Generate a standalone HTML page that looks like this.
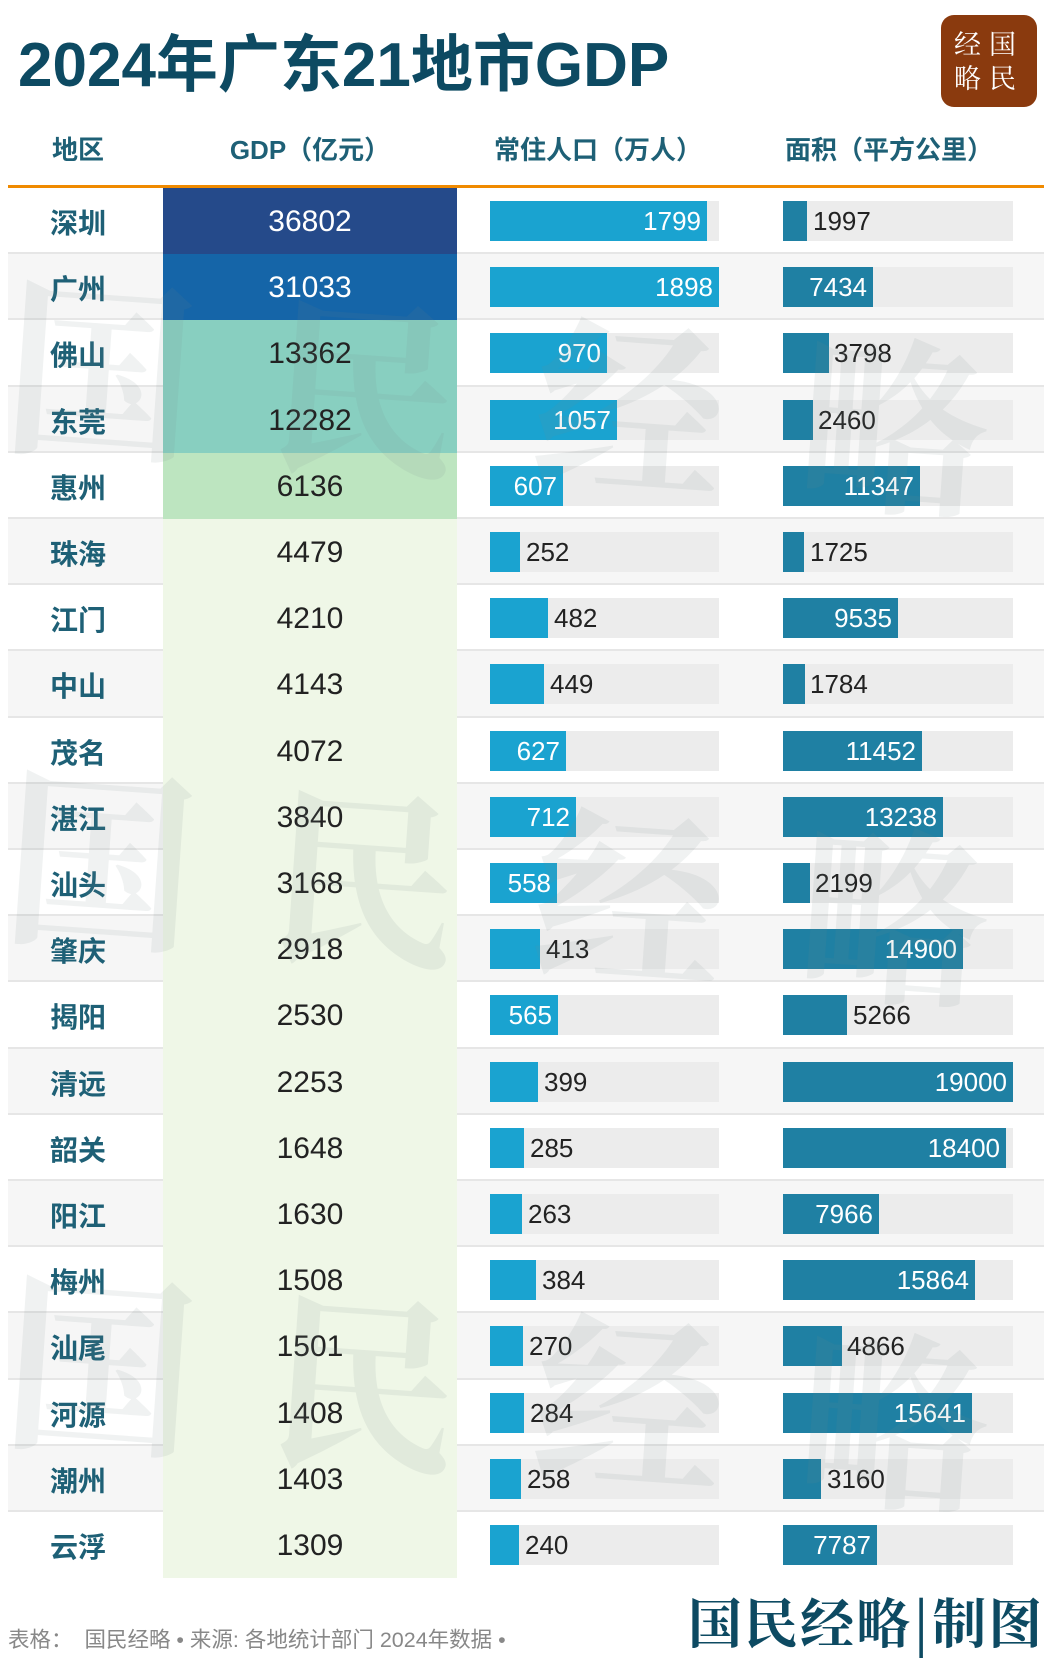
<!DOCTYPE html><html><head><meta charset="utf-8"><style>
body{margin:0;width:1048px;height:1652px;background:#fff;position:relative;overflow:hidden;font-family:"Liberation Sans","Noto Sans CJK SC",sans-serif}
.a{position:absolute}
.t{left:18px;top:14px;font-size:62px;font-weight:bold;color:#0d4a62;letter-spacing:0px;white-space:nowrap}
.logo{left:941px;top:15px;width:96px;height:92px;background:#8a3a0e;border-radius:13px;color:#fff;font-family:"Noto Serif CJK SC",serif;font-size:27px;line-height:34px;text-align:center;padding-top:11px;box-sizing:border-box;letter-spacing:8px}
.h{top:130px;font-size:26px;font-weight:bold;color:#1e6076;text-align:center;white-space:nowrap}
.ol{left:8px;top:185px;width:1036px;height:3px;background:#f08a00}
.r{position:absolute;left:8px;width:1036px;height:66.2px;border-bottom:2px solid #e6e6e6;box-sizing:border-box}
.r.z{background:#f6f6f6}
.n{position:absolute;left:0;width:140px;text-align:center;top:14px;font-size:28px;font-weight:bold;color:#1e6076}
.g{position:absolute;left:155px;width:294px;top:0;height:66.2px;text-align:center;line-height:68px;font-size:30px;color:#222;background:#eff7e7}
.tr{position:absolute;top:13px;height:40px;width:229px;background:#ececec}
.p{left:482px}.q{left:775px;width:230px}
.b{position:absolute;left:0;top:0;height:40px;background:#1aa3d0}
.q .b{background:#1f80a3}
.l{position:absolute;top:0;line-height:41px;font-size:26px;color:#222;white-space:nowrap}
.i{color:#fff;text-align:right;padding-right:6px;box-sizing:border-box;left:0}
.wm{font-family:"Noto Serif CJK SC",serif;font-weight:bold;color:rgba(120,140,140,0.11);font-size:190px;letter-spacing:75px;white-space:nowrap}
.f{left:8px;top:1623px;font-size:21.5px;color:#888;white-space:nowrap}
.s{left:688px;top:1582px;font-size:54px;font-family:"Noto Serif CJK SC",serif;font-weight:bold;color:#0d4a62;white-space:nowrap;letter-spacing:2px}
</style></head><body>
<div class="a t">2024年广东21地市GDP</div>
<div class="a logo">经国<br>略民</div>
<div class="a h" style="left:18px;width:120px">地区</div>
<div class="a h" style="left:200px;width:220px">GDP（亿元）</div>
<div class="a h" style="left:478px;width:240px">常住人口（万人）</div>
<div class="a h" style="left:769px;width:240px">面积（平方公里）</div>
<div class="a ol"></div>

<div class="r" style="top:188px"><div class="n">深圳</div><div class="g" style="background:#254a8a;color:#fff">36802</div><div class="tr p"><div class="b" style="width:217px"></div><span class="l i" style="width:217px">1799</span></div><div class="tr q"><div class="b" style="width:24px"></div><span class="l" style="left:30px">1997</span></div></div>
<div class="r z" style="top:254.2px"><div class="n">广州</div><div class="g" style="background:#1565a8;color:#fff">31033</div><div class="tr p"><div class="b" style="width:229px"></div><span class="l i" style="width:229px">1898</span></div><div class="tr q"><div class="b" style="width:90px"></div><span class="l i" style="width:90px">7434</span></div></div>
<div class="r" style="top:320.4px"><div class="n">佛山</div><div class="g" style="background:#88cfc0">13362</div><div class="tr p"><div class="b" style="width:117px"></div><span class="l i" style="width:117px">970</span></div><div class="tr q"><div class="b" style="width:46px"></div><span class="l" style="left:51px">3798</span></div></div>
<div class="r z" style="top:386.6px"><div class="n">东莞</div><div class="g" style="background:#88cfc0">12282</div><div class="tr p"><div class="b" style="width:127px"></div><span class="l i" style="width:127px">1057</span></div><div class="tr q"><div class="b" style="width:30px"></div><span class="l" style="left:35px">2460</span></div></div>
<div class="r" style="top:452.8px"><div class="n">惠州</div><div class="g" style="background:#bde5c0">6136</div><div class="tr p"><div class="b" style="width:73px"></div><span class="l i" style="width:73px">607</span></div><div class="tr q"><div class="b" style="width:137px"></div><span class="l i" style="width:137px">11347</span></div></div>
<div class="r z" style="top:519px"><div class="n">珠海</div><div class="g">4479</div><div class="tr p"><div class="b" style="width:30px"></div><span class="l" style="left:36px">252</span></div><div class="tr q"><div class="b" style="width:21px"></div><span class="l" style="left:27px">1725</span></div></div>
<div class="r" style="top:585.2px"><div class="n">江门</div><div class="g">4210</div><div class="tr p"><div class="b" style="width:58px"></div><span class="l" style="left:64px">482</span></div><div class="tr q"><div class="b" style="width:115px"></div><span class="l i" style="width:115px">9535</span></div></div>
<div class="r z" style="top:651.4px"><div class="n">中山</div><div class="g">4143</div><div class="tr p"><div class="b" style="width:54px"></div><span class="l" style="left:60px">449</span></div><div class="tr q"><div class="b" style="width:22px"></div><span class="l" style="left:27px">1784</span></div></div>
<div class="r" style="top:717.6px"><div class="n">茂名</div><div class="g">4072</div><div class="tr p"><div class="b" style="width:76px"></div><span class="l i" style="width:76px">627</span></div><div class="tr q"><div class="b" style="width:139px"></div><span class="l i" style="width:139px">11452</span></div></div>
<div class="r z" style="top:783.8px"><div class="n">湛江</div><div class="g">3840</div><div class="tr p"><div class="b" style="width:86px"></div><span class="l i" style="width:86px">712</span></div><div class="tr q"><div class="b" style="width:160px"></div><span class="l i" style="width:160px">13238</span></div></div>
<div class="r" style="top:850px"><div class="n">汕头</div><div class="g">3168</div><div class="tr p"><div class="b" style="width:67px"></div><span class="l i" style="width:67px">558</span></div><div class="tr q"><div class="b" style="width:27px"></div><span class="l" style="left:32px">2199</span></div></div>
<div class="r z" style="top:916.2px"><div class="n">肇庆</div><div class="g">2918</div><div class="tr p"><div class="b" style="width:50px"></div><span class="l" style="left:56px">413</span></div><div class="tr q"><div class="b" style="width:180px"></div><span class="l i" style="width:180px">14900</span></div></div>
<div class="r" style="top:982.4px"><div class="n">揭阳</div><div class="g">2530</div><div class="tr p"><div class="b" style="width:68px"></div><span class="l i" style="width:68px">565</span></div><div class="tr q"><div class="b" style="width:64px"></div><span class="l" style="left:70px">5266</span></div></div>
<div class="r z" style="top:1048.6px"><div class="n">清远</div><div class="g">2253</div><div class="tr p"><div class="b" style="width:48px"></div><span class="l" style="left:54px">399</span></div><div class="tr q"><div class="b" style="width:230px"></div><span class="l i" style="width:230px">19000</span></div></div>
<div class="r" style="top:1114.8px"><div class="n">韶关</div><div class="g">1648</div><div class="tr p"><div class="b" style="width:34px"></div><span class="l" style="left:40px">285</span></div><div class="tr q"><div class="b" style="width:223px"></div><span class="l i" style="width:223px">18400</span></div></div>
<div class="r z" style="top:1181px"><div class="n">阳江</div><div class="g">1630</div><div class="tr p"><div class="b" style="width:32px"></div><span class="l" style="left:38px">263</span></div><div class="tr q"><div class="b" style="width:96px"></div><span class="l i" style="width:96px">7966</span></div></div>
<div class="r" style="top:1247.2px"><div class="n">梅州</div><div class="g">1508</div><div class="tr p"><div class="b" style="width:46px"></div><span class="l" style="left:52px">384</span></div><div class="tr q"><div class="b" style="width:192px"></div><span class="l i" style="width:192px">15864</span></div></div>
<div class="r z" style="top:1313.4px"><div class="n">汕尾</div><div class="g">1501</div><div class="tr p"><div class="b" style="width:33px"></div><span class="l" style="left:39px">270</span></div><div class="tr q"><div class="b" style="width:59px"></div><span class="l" style="left:64px">4866</span></div></div>
<div class="r" style="top:1379.6px"><div class="n">河源</div><div class="g">1408</div><div class="tr p"><div class="b" style="width:34px"></div><span class="l" style="left:40px">284</span></div><div class="tr q"><div class="b" style="width:189px"></div><span class="l i" style="width:189px">15641</span></div></div>
<div class="r z" style="top:1445.8px"><div class="n">潮州</div><div class="g">1403</div><div class="tr p"><div class="b" style="width:31px"></div><span class="l" style="left:37px">258</span></div><div class="tr q"><div class="b" style="width:38px"></div><span class="l" style="left:44px">3160</span></div></div>
<div class="r" style="top:1512px;border-bottom:none"><div class="n">云浮</div><div class="g">1309</div><div class="tr p"><div class="b" style="width:29px"></div><span class="l" style="left:35px">240</span></div><div class="tr q"><div class="b" style="width:94px"></div><span class="l i" style="width:94px">7787</span></div></div>

<div class="a wm" style="left:5px;top:255px;transform:rotate(4deg)">国民经略</div>
<div class="a wm" style="left:5px;top:745px;transform:rotate(4deg)">国民经略</div>
<div class="a wm" style="left:5px;top:1250px;transform:rotate(4deg)">国民经略</div>

<div class="a f">表格：&nbsp; 国民经略 • 来源: 各地统计部门 2024年数据 •</div>
<div class="a s">国民经略|制图</div>
</body></html>
